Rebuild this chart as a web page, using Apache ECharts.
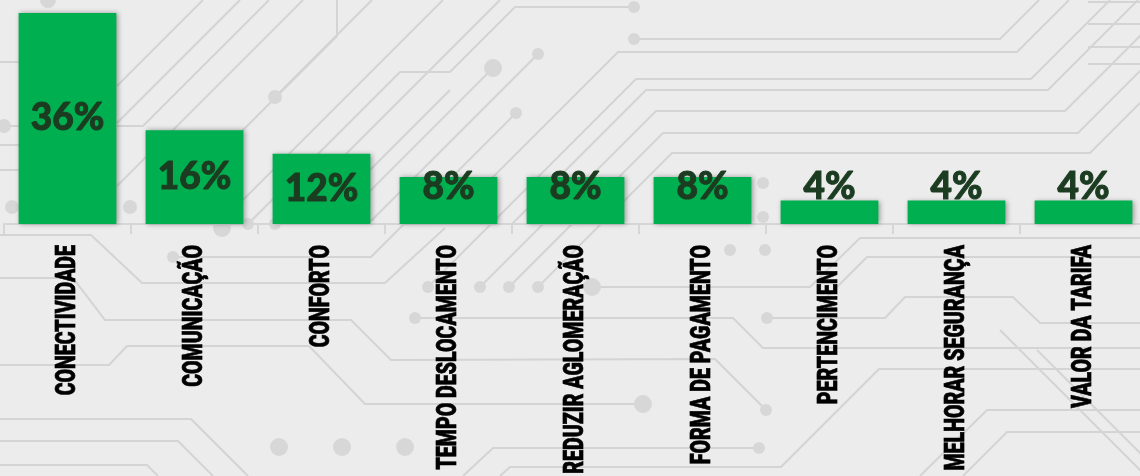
<!DOCTYPE html>
<html>
<head>
<meta charset="utf-8">
<style>
  html, body { margin: 0; padding: 0; overflow: hidden; background: #ececec; }
  #chart { position: absolute; left: 0; top: 0; width: 1150px; height: 476px; }
</style>
<script src="https://cdn.jsdelivr.net/npm/echarts@6/dist/echarts.min.js"></script>
</head>
<body>
<div id="chart"></div>
<script>
// Motivos citados (percentual das respostas)
const categories = [
  'CONECTIVIDADE',
  'COMUNICAÇÃO',
  'CONFORTO',
  'TEMPO DESLOCAMENTO',
  'REDUZIR AGLOMERAÇÃO',
  'FORMA DE PAGAMENTO',
  'PERTENCIMENTO',
  'MELHORAR SEGURANÇA',
  'VALOR DA TARIFA'
];
const shares = [36, 16, 12, 8, 8, 8, 4, 4, 4];

const GREEN = '#00b050';
const LABEL_GREEN = '#1b3c20';
const TRACE = '#d4d4d4';
const PAD = '#d7d7d7';

// Decorative circuit-board traces in the background
const traces = [
  [[0, 62], [19, 62]], [[0, 126], [19, 126]], [[0, 145], [19, 145]], [[0, 170], [19, 170]],
  [[117, 86], [203, 0]], [[117, 123], [240, 0]], [[117, 126], [143, 126], [269, 0]],
  [[117, 186], [303, 0]], [[149, 224], [337, 36], [337, 0]], [[275, 97], [372, 0]],
  [[219, 224], [443, 0]], [[276, 224], [500, 0]], [[316, 224], [450, 90]],
  [[248, 224], [400, 72], [450, 72], [515, 7], [634, 7]],
  [[337, 224], [493, 68]], [[368, 224], [538, 54]], [[405, 224], [516, 113]],
  [[634, 39], [1000, 39], [1039, 0]],
  [[446, 224], [618, 52], [1017, 52], [1069, 0]],
  [[428, 287], [636, 79], [1031, 79], [1110, 0]],
  [[512, 224], [646, 90], [1048, 90], [1138, 0]],
  [[480, 287], [656, 111], [1065, 111], [1150, 26]],
  [[509, 287], [663, 133], [1078, 133], [1150, 61]],
  [[538, 287], [672, 153], [1090, 153], [1150, 93]],
  [[1088, 2], [1150, 2]], [[1088, 24], [1150, 24]], [[1088, 47], [1150, 47]], [[1088, 64], [1150, 64]],
  [[0, 235], [91, 235], [142, 283], [385, 283], [445, 228]],
  [[0, 278], [73, 278], [105, 320], [351, 320], [391, 360], [715, 359], [766, 410]],
  [[0, 365], [109, 365], [127, 346], [309, 346], [365, 404], [643, 404]],
  [[0, 419], [191, 419], [248, 476]],
  [[0, 441], [178, 441], [213, 476]],
  [[0, 465], [147, 465], [158, 476]],
  [[173, 257], [371, 257], [404, 224]],
  [[415, 318], [733, 318], [763, 348], [1150, 348]],
  [[463, 476], [493, 448], [759, 448]],
  [[500, 476], [510, 467], [781, 467], [879, 369], [1150, 369]],
  [[592, 287], [810, 287], [860, 238], [1150, 238]],
  [[827, 297], [867, 257], [1150, 257]],
  [[767, 318], [885, 318], [905, 297], [1013, 297], [1040, 323], [1150, 323]],
  [[920, 476], [987, 410], [1150, 410]],
  [[963, 476], [1007, 432], [1150, 432]],
  [[1000, 330], [1146, 476]],
  [[1037, 350], [1150, 463]]
];
const pads = [
  [4, 126, 7], [12, 207, 7], [130, 207, 7], [48, 0, 8],
  [275, 97, 7], [493, 68, 9], [538, 54, 6], [516, 113, 6], [634, 7, 6], [634, 39, 6],
  [222, 228, 9], [248, 224, 6], [275, 224, 6],
  [173, 257, 6], [428, 287, 6], [480, 287, 6], [509, 287, 6], [538, 287, 6],
  [415, 318, 6], [592, 287, 9], [643, 404, 9], [766, 410, 6], [759, 448, 6],
  [767, 318, 6], [730, 250, 6], [765, 250, 6], [763, 183, 6], [763, 217, 6],
  [279, 447, 9], [342, 447, 9], [405, 447, 9]
];

const background = [];
traces.forEach(function (pts) {
  background.push({
    type: 'polyline', silent: true, z: -5,
    shape: { points: pts },
    style: { stroke: TRACE, lineWidth: 2, fill: null }
  });
});
pads.forEach(function (p) {
  background.push({
    type: 'circle', silent: true, z: -5,
    shape: { cx: p[0], cy: p[1], r: p[2] },
    style: { fill: PAD }
  });
});

const chart = echarts.init(document.getElementById('chart'), null, { renderer: 'canvas' });

const baseOption = {
  backgroundColor: '#ececec',
  animation: false,
  graphic: { elements: background },
  grid: { left: 4, right: 3, top: 13, bottom: 252, containLabel: false },
  xAxis: {
    type: 'category',
    data: categories,
    boundaryGap: true,
    axisLine: { show: true, lineStyle: { color: '#d6d6d6', width: 2 } },
    axisTick: { show: true, length: 10, interval: 0, lineStyle: { color: '#d6d6d6', width: 2 } },
    axisLabel: { show: false },
    splitLine: { show: false }
  },
  yAxis: {
    type: 'value', min: 0, max: 36,
    show: false,
    splitLine: { show: false }
  },
  series: [
    {
      type: 'bar',
      data: shares,
      barWidth: '77%',
      itemStyle: {
        color: GREEN,
        shadowColor: 'rgba(0,0,0,0.35)',
        shadowBlur: 5,
        shadowOffsetX: 1.5,
        shadowOffsetY: 0
      },
      label: {
        show: true,
        position: 'inside',
        formatter: '{c}%',
        color: LABEL_GREEN,
        textBorderColor: LABEL_GREEN,
        textBorderWidth: 1,
        fontFamily: 'Lato',
        fontWeight: 900,
        fontSize: 37
      },
      z: 3
    },
    {
      // rotated, condensed category names under the axis
      type: 'custom',
      clip: false,
      silent: true,
      z: 4,
      data: categories.map(function (c, i) { return [i, 0]; }),
      encode: { x: 0, y: 1 },
      renderItem: function (params, api) {
        const p = api.coord([api.value(0), 0]);
        return {
          type: 'text',
          x: p[0],
          y: p[1] + 21,
          rotation: Math.PI / 2,
          scaleX: 0.70,
          style: {
            text: categories[params.dataIndex],
            fill: '#000000',
            stroke: '#000000',
            lineWidth: 0.7,
            fontFamily: 'Roboto',
            fontWeight: 900,
            fontSize: 28,
            align: 'right',
            verticalAlign: 'middle'
          }
        };
      }
    }
  ]
};

chart.setOption(baseOption);

// Short bars: keep the value label at a common height instead of inside the bar
const labelFloor = chart.convertToPixel({ yAxisIndex: 0 }, 6.3);
const barData = shares.map(function (v) {
  const top = chart.convertToPixel({ yAxisIndex: 0 }, v);
  const bottom = chart.convertToPixel({ yAxisIndex: 0 }, 0);
  const mid = (top + bottom) / 2;
  if (mid <= labelFloor + 2) return { value: v };
  return {
    value: v,
    label: { position: ['50%', labelFloor - top], align: 'center', verticalAlign: 'middle' }
  };
});
chart.setOption({ series: [{ data: barData }] });
</script>
</body>
</html>
